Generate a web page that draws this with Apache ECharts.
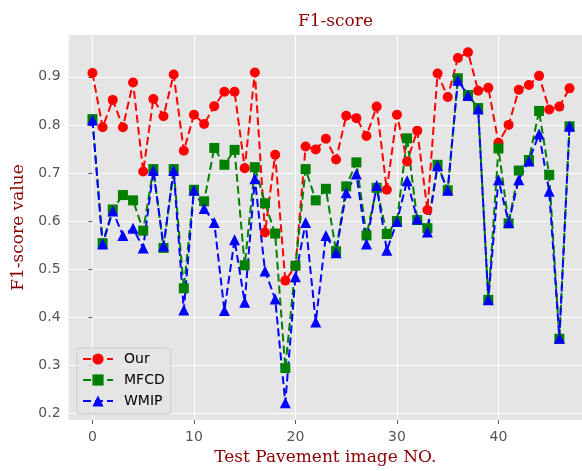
<!DOCTYPE html>
<html>
<head>
<meta charset="utf-8">
<script src="https://cdn.jsdelivr.net/npm/echarts@6/dist/echarts.min.js"></script>
<style>
  html, body { margin: 0; padding: 0; background: #ffffff; }
  #chart { width: 582px; height: 471px; }
</style>
</head>
<body>
<div id="chart"></div>
<script>
// Test pavement image numbers
const imageNo = [0, 1, 2, 3, 4, 5, 6, 7, 8, 9, 10, 11, 12, 13, 14, 15, 16, 17, 18, 19,
  20, 21, 22, 23, 24, 25, 26, 27, 28, 29, 30, 31, 32, 33, 34, 35, 36, 37, 38, 39,
  40, 41, 42, 43, 44, 45, 46, 47];

// F1-score per image for each method
const ourScores = [0.908, 0.795, 0.852, 0.795, 0.888, 0.703, 0.854, 0.818, 0.905, 0.746,
  0.821, 0.802, 0.839, 0.869, 0.869, 0.710, 0.909, 0.576, 0.738, 0.476,
  0.506, 0.755, 0.749, 0.771, 0.728, 0.819, 0.814, 0.777, 0.838, 0.665,
  0.821, 0.724, 0.788, 0.623, 0.907, 0.858, 0.939, 0.951, 0.871, 0.877,
  0.763, 0.800, 0.873, 0.883, 0.902, 0.832, 0.838, 0.876];

const mfcdScores = [0.812, 0.554, 0.624, 0.654, 0.643, 0.580, 0.708, 0.544, 0.708, 0.460,
  0.665, 0.641, 0.752, 0.717, 0.748, 0.508, 0.712, 0.637, 0.574, 0.294,
  0.507, 0.708, 0.643, 0.667, 0.537, 0.672, 0.722, 0.570, 0.669, 0.573,
  0.600, 0.772, 0.602, 0.585, 0.717, 0.664, 0.897, 0.862, 0.835, 0.436,
  0.751, 0.595, 0.705, 0.727, 0.829, 0.696, 0.355, 0.797];

const wmipScores = [0.810, 0.552, 0.621, 0.570, 0.585, 0.544, 0.705, 0.548, 0.705, 0.415,
  0.664, 0.626, 0.597, 0.414, 0.561, 0.431, 0.688, 0.496, 0.438, 0.222,
  0.484, 0.597, 0.390, 0.570, 0.534, 0.659, 0.698, 0.552, 0.674, 0.539,
  0.599, 0.684, 0.604, 0.577, 0.715, 0.664, 0.893, 0.861, 0.833, 0.436,
  0.686, 0.597, 0.686, 0.725, 0.781, 0.662, 0.356, 0.797];

// Axis tick positions
const xTicks = [0, 10, 20, 30, 40];
const yTicks = [0.2, 0.3, 0.4, 0.5, 0.6, 0.7, 0.8, 0.9];

const seriesNames = ['Our', 'MFCD', 'WMIP'];

const pairs = (ys) => imageNo.map((x, i) => [x, ys[i]]);

const serifFont = '"DejaVu Serif", serif';
const sansFont = '"DejaVu Sans", sans-serif';
const darkRed = '#8B0000';

function lineSeries(name, values, color, symbol, size) {
  return {
    name: name,
    type: 'line',
    data: pairs(values),
    symbol: symbol,
    symbolSize: size,
    showAllSymbol: true,
    animation: false,
    itemStyle: { color: color, borderWidth: 0 },
    lineStyle: { color: color, width: 2, type: [8, 4] },
    emphasis: { disabled: true }
  };
}

const chart = echarts.init(document.getElementById('chart'), null, { renderer: 'canvas' });

chart.setOption({
  backgroundColor: '#ffffff',
  animation: false,
  title: {
    text: 'F1-score',
    left: 293,
    top: 8,
    textStyle: { fontFamily: serifFont, fontSize: 17, fontWeight: 'normal', color: darkRed }
  },
  grid: {
    left: 68.6,
    right: 0,
    top: 35,
    height: 388,
    show: true,
    backgroundColor: '#E5E5E5',
    borderWidth: 0
  },
  legend: {
    data: seriesNames,
    orient: 'vertical',
    left: 77,
    top: 348,
    itemWidth: 30,
    itemHeight: 14,
    itemGap: 7,
    padding: [4, 6, 6, 5],
    backgroundColor: 'rgba(229,229,229,0.8)',
    borderColor: '#CCCCCC',
    borderWidth: 1,
    borderRadius: 3,
    textStyle: { fontFamily: sansFont, fontSize: 14, color: '#000000', padding: [0, 0, 0, 6] }
  },
  xAxis: {
    type: 'value',
    min: -2.35,
    max: 48.23,
    name: 'Test Pavement image NO.',
    nameLocation: 'middle',
    nameGap: 29,
    nameTextStyle: { fontFamily: serifFont, fontSize: 17, color: darkRed },
    axisLine: { show: false },
    axisTick: { show: true, customValues: xTicks, length: 4, lineStyle: { color: '#555555', width: 1 } },
    axisLabel: { customValues: xTicks, margin: 10, fontFamily: sansFont, fontSize: 14, color: '#555555' },
    splitLine: { show: true, lineStyle: { color: '#ffffff', width: 1 } }
  },
  yAxis: {
    type: 'value',
    min: 0.186,
    max: 0.987,
    name: 'F1-score value',
    nameLocation: 'middle',
    nameRotate: 90,
    nameGap: 41,
    nameTextStyle: { fontFamily: serifFont, fontSize: 17, color: darkRed },
    axisLine: { show: false },
    axisTick: { show: true, customValues: yTicks, length: 4, lineStyle: { color: '#555555', width: 1 } },
    axisLabel: {
      customValues: yTicks, margin: 8, fontFamily: sansFont, fontSize: 14, color: '#555555',
      formatter: (v) => Number(v).toFixed(1)
    },
    splitLine: { show: true, lineStyle: { color: '#ffffff', width: 1 } }
  },
  series: [
    lineSeries('Our', ourScores, '#FF0000', 'circle', 10),
    lineSeries('MFCD', mfcdScores, '#008000', 'rect', 10),
    lineSeries('WMIP', wmipScores, '#0000FF', 'triangle', 11)
  ]
});
</script>
</body>
</html>
